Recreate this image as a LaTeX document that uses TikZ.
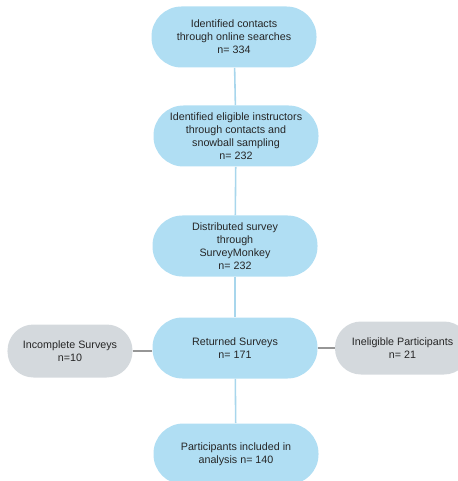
\documentclass[tikz,border=0pt]{standalone}
\usepackage{fontspec}
\setmainfont{Liberation Sans}
\usepackage{xcolor}
\definecolor{boxblue}{RGB}{176,222,243}
\definecolor{boxgrey}{RGB}{212,217,221}
\definecolor{lineblue}{RGB}{168,214,236}
\definecolor{linegrey}{RGB}{150,150,150}

\begin{document}
\begin{tikzpicture}[
  stepblue/.style={shape=rectangle, rounded corners=0.6cm, fill=boxblue, draw=none,
    minimum width=3.3cm, minimum height=1.22cm, align=center, inner sep=1pt,
    font=\fontsize{6.1}{7.4}\selectfont, text=black!85},
  stepgrey/.style={stepblue, fill=boxgrey, rounded corners=0.52cm, minimum width=2.5cm, minimum height=1.06cm},
  flowline/.style={draw=lineblue, line width=0.9pt},
  sideline/.style={draw=linegrey, line width=0.9pt}
]
\useasboundingbox (0,0) rectangle (9.16,-9.62);

\node [stepblue] (s1) at (4.68,-0.74) {Identified contacts\\through online searches\\n= 334};
\node [stepblue] (s2) at (4.72,-2.72) {Identified eligible instructors\\through contacts and\\snowball sampling\\n= 232};
\node [stepblue] (s3) at (4.70,-4.92) {Distributed survey\\through\\SurveyMonkey\\n= 232};
\node [stepblue] (s4) at (4.70,-6.96) {Returned Surveys\\n= 171};
\node [stepblue] (s5) at (4.72,-9.08) {Participants included in\\analysis n= 140};
\node [stepgrey] (inc) at (1.40,-7.02) {Incomplete Surveys\\n=10};
\node [stepgrey, minimum width=2.7cm] (inel) at (8.05,-6.96) {Ineligible Participants\\n= 21};

\draw [flowline] (s1) -- (s2);
\draw [flowline] (s2) -- (s3);
\draw [flowline] (s3) -- (s4);
\draw [flowline] (s4) -- (s5);
\draw [sideline] (inc) -- (s4.west |- inc);
\draw [sideline] (s4) -- (inel);
\end{tikzpicture}
\end{document}
